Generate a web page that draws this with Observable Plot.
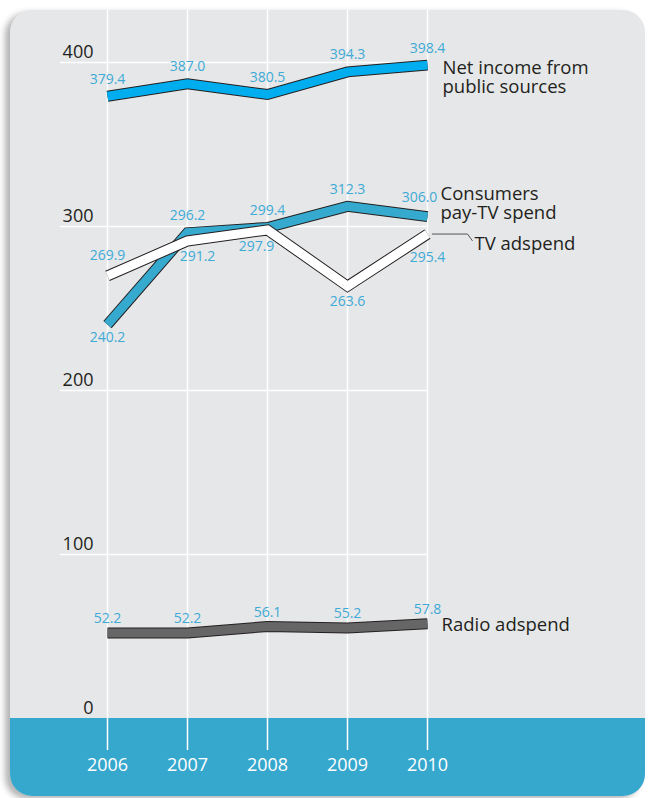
<!DOCTYPE html>
<html><head><meta charset="utf-8">
<script src="https://cdn.jsdelivr.net/npm/d3@7"></script>
<script src="https://cdn.jsdelivr.net/npm/@observablehq/plot@0.6"></script>
<style>
html,body{margin:0;padding:0;background:#fff;width:655px;height:798px;overflow:hidden;}
#panel{position:absolute;left:10px;top:10px;width:635px;height:786px;border-radius:22px;background:#e6e7e8;overflow:hidden;box-shadow:-5px 3px 6px rgba(0,0,0,0.3);}
#panel svg{display:block;}
</style></head><body><div id="panel"></div>
<script>
const years = [2006, 2007, 2008, 2009, 2010];
const netIncome = [379.4, 387.0, 380.5, 394.3, 398.4];
const payTV = [240.2, 296.2, 299.4, 312.3, 306.0];
const tvAdspend = [269.9, 291.2, 297.9, 263.6, 295.4];
const radioAdspend = [52.2, 52.2, 56.1, 55.2, 57.8];
const yTicks = [0, 100, 200, 300, 400];
const seriesNames = ["Radio adspend", "Consumers\npay-TV spend", "TV adspend", "Net income from\npublic sources"];

const seriesList = [
  {key: "radio", name: seriesNames[0], values: radioAdspend, color: "#666666"},
  {key: "paytv", name: seriesNames[1], values: payTV, color: "#36a9ce"},
  {key: "tv", name: seriesNames[2], values: tvAdspend, color: "#ffffff"},
  {key: "net", name: seriesNames[3], values: netIncome, color: "#00aeef"}
];
const rows = seriesList.flatMap(s => years.map((y, i) => ({series: s.key, year: y, value: s.values[i]})));

const FONT = "'Open Sans', sans-serif";
const DARK = "#231f20";
const LBLUE = "#3eaad6";
const sel = (k, f = () => true) => rows.filter(d => d.series === k && f(d));

const marks = [
  Plot.rect([0], {y1: -60, y2: 0, fill: "#36a7cd"}),
  Plot.ruleX(years, {x: d => d, stroke: "#fff", strokeWidth: 1.5}),
  Plot.ruleY(yTicks.slice(1), {y: d => d, x1: 2005.41, x2: 2010, stroke: "#fff", strokeWidth: 1.5}),
  Plot.text(yTicks, {y: d => d, frameAnchor: "left", dx: 83, dy: -10, textAnchor: "end", text: d => String(d), fill: DARK, fontSize: 18}),
  Plot.axisX(years, {anchor: "bottom", tickSize: 0, tickPadding: 8, fill: "#fff", fontSize: 18, tickFormat: d => String(d), label: null})
];

for (const s of seriesList) {
  const d = sel(s.key);
  marks.push(Plot.line(d, {x: "year", y: "value", stroke: DARK, strokeWidth: 11, strokeLinejoin: "miter", strokeLinecap: "butt", strokeMiterlimit: 10}));
  marks.push(Plot.line(d, {x: "year", y: "value", stroke: s.color, strokeWidth: 9, strokeLinejoin: "miter", strokeLinecap: "butt", strokeMiterlimit: 10}));
}

const lab = (data, opts) => Plot.text(data, {x: "year", y: "value", text: d => d.value.toFixed(1), fill: LBLUE, fontSize: 14, ...opts});
marks.push(
  lab(sel("net"), {dy: -17}),
  lab(sel("paytv", d => d.year === 2006), {dy: 13}),
  lab(sel("paytv", d => d.year > 2006 && d.year < 2010), {dy: -17}),
  lab(sel("paytv", d => d.year === 2010), {dy: -19, dx: -8}),
  lab(sel("tv", d => d.year === 2006), {dy: -20}),
  lab(sel("tv", d => d.year === 2007), {dy: 16, dx: 10}),
  lab(sel("tv", d => d.year === 2008), {dy: 17, dx: -11}),
  lab(sel("tv", d => d.year === 2009), {dy: 15}),
  lab(sel("tv", d => d.year === 2010), {dy: 23}),
  lab(sel("radio"), {dy: -14})
);

// leader for TV adspend
const tvLast = tvAdspend[tvAdspend.length - 1];
marks.push(Plot.line([
  {x: 2010.06, y: tvLast}, {x: 2010.5, y: tvLast}, {x: 2010.56, y: tvLast - 4}
], {x: "x", y: "y", stroke: "#444", strokeWidth: 0.9}));

const endLab = (k, dx, dy) => {
  const s = seriesList.find(t => t.key === k);
  return Plot.text([{year: 2010, value: s.values[s.values.length - 1]}], {x: "year", y: "value", text: () => s.name, textAnchor: "start", dx, dy, fill: DARK, fontSize: 18.5, lineHeight: 1.02});
};
marks.push(endLab("net", 15, 12), endLab("paytv", 13, -13), endLab("tv", 47, 10), endLab("radio", 14, 1));

const chart = Plot.plot({
  width: 635, height: 786,
  marginLeft: 0, marginRight: 0, marginTop: 0, marginBottom: 46,
  style: {fontFamily: FONT, background: "transparent", overflow: "visible"},
  x: {domain: [2006, 2010], range: [97, 417], axis: null},
  y: {domain: [0, 400], range: [708, 52], axis: null},
  marks
});
document.getElementById("panel").appendChild(chart);
</script></body></html>
